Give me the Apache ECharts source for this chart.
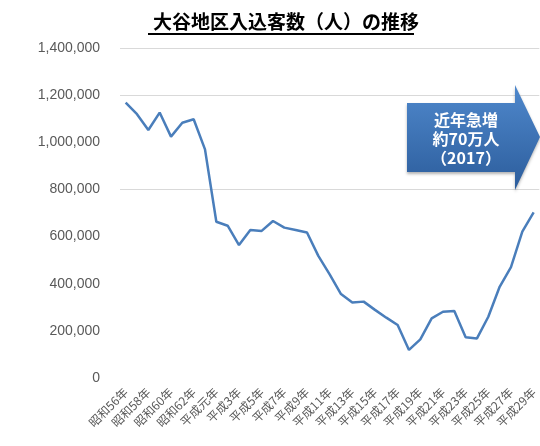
<!DOCTYPE html>
<html>
<head>
<meta charset="utf-8">
<script src="https://cdn.jsdelivr.net/npm/echarts@6/dist/echarts.min.js"></script>
<style>
  html, body { margin: 0; padding: 0; background: #fff; }
  #chart { width: 540px; height: 446px; }
</style>
</head>
<body>
<div id="chart"></div>
<script>
// 昭和56年(1981) 〜 平成29年(2017)
const years = [
  "昭和56年", "昭和57年", "昭和58年", "昭和59年", "昭和60年", "昭和61年", "昭和62年", "昭和63年",
  "平成元年", "平成2年", "平成3年", "平成4年", "平成5年", "平成6年", "平成7年", "平成8年",
  "平成9年", "平成10年", "平成11年", "平成12年", "平成13年", "平成14年", "平成15年", "平成16年",
  "平成17年", "平成18年", "平成19年", "平成20年", "平成21年", "平成22年", "平成23年", "平成24年",
  "平成25年", "平成26年", "平成27年", "平成28年", "平成29年"
];
const visitors = [
  1168000, 1119000, 1052000, 1126000, 1024000, 1083000, 1098000, 970000,
  663000, 646000, 564000, 628000, 624000, 666000, 638000, 628000,
  617000, 518000, 440000, 356000, 320000, 324000, 289000, 256000,
  225000, 119000, 164000, 253000, 281000, 284000, 173000, 168000,
  260000, 387000, 470000, 621000, 703000
];
const yTicks = [0, 200000, 400000, 600000, 800000, 1000000, 1200000, 1400000];
const noteLines = ["近年急増", "約70万人", "（2017）"];

const chart = echarts.init(document.getElementById("chart"));

chart.setOption({
  animation: false,
  title: {
    text: "大谷地区入込客数（人）の推移",
    left: 148,
    top: 7,
    textStyle: {
      fontFamily: "Noto Sans CJK JP",
      fontSize: 19,
      fontWeight: "bold",
      color: "#000",
    },
  },
  grid: {
    left: 120,
    right: 0,
    top: 48,
    bottom: 68,
  },
  xAxis: {
    type: "category",
    data: years,
    boundaryGap: true,
    axisLine: { show: false },
    axisTick: { show: false },
    axisLabel: {
      interval: 1,
      rotate: 45,
      margin: 12,
      fontFamily: "Noto Sans CJK JP",
      fontSize: 12,
      color: "#595959",
    },
  },
  yAxis: {
    type: "value",
    min: yTicks[0],
    max: yTicks[yTicks.length - 1],
    interval: 200000,
    axisLine: { show: false },
    axisTick: { show: false },
    axisLabel: {
      margin: 20,
      fontFamily: "Liberation Sans",
      fontSize: 14,
      color: "#595959",
      formatter: (v) => v.toLocaleString("en-US"),
    },
    splitLine: {
      lineStyle: {
        // 元図では 1,400,000 / 1,200,000 / 800,000 の線だけ見える
        color: ["transparent", "transparent", "transparent", "transparent",
                "#d9d9d9", "transparent", "#d9d9d9", "#d9d9d9"],
        width: 1,
      },
    },
  },
  series: [
    {
      name: "入込客数",
      type: "line",
      data: visitors,
      showSymbol: false,
      symbol: "none",
      lineStyle: { color: "#4a7ebb", width: 2.5 },
      z: 3,
    },
  ],
  graphic: [
    // タイトルの下線
    {
      type: "line",
      shape: { x1: 148, y1: 34, x2: 414, y2: 34 },
      style: { stroke: "#000", lineWidth: 2 },
    },
    // 矢印
    {
      type: "polygon",
      z: 10,
      shape: {
        points: [[407, 103], [515, 103], [515, 85], [540, 137], [515, 190], [515, 172], [407, 172]],
      },
      style: {
        fill: new echarts.graphic.LinearGradient(0, 0, 0, 1, [
          { offset: 0, color: "#4f88cc" },
          { offset: 1, color: "#2c5d9c" },
        ]),
        shadowBlur: 3,
        shadowColor: "rgba(0,0,0,0.3)",
        shadowOffsetY: 2,
      },
    },
    {
      type: "text",
      z: 11,
      x: 466,
      y: 139,
      style: {
        text: noteLines.join("\n"),
        fill: "#fff",
        fontFamily: "Noto Sans CJK JP",
        fontSize: 16,
        fontWeight: "bold",
        lineHeight: 19,
        align: "center",
        verticalAlign: "middle",
      },
    },
  ],
});
</script>
</body>
</html>
